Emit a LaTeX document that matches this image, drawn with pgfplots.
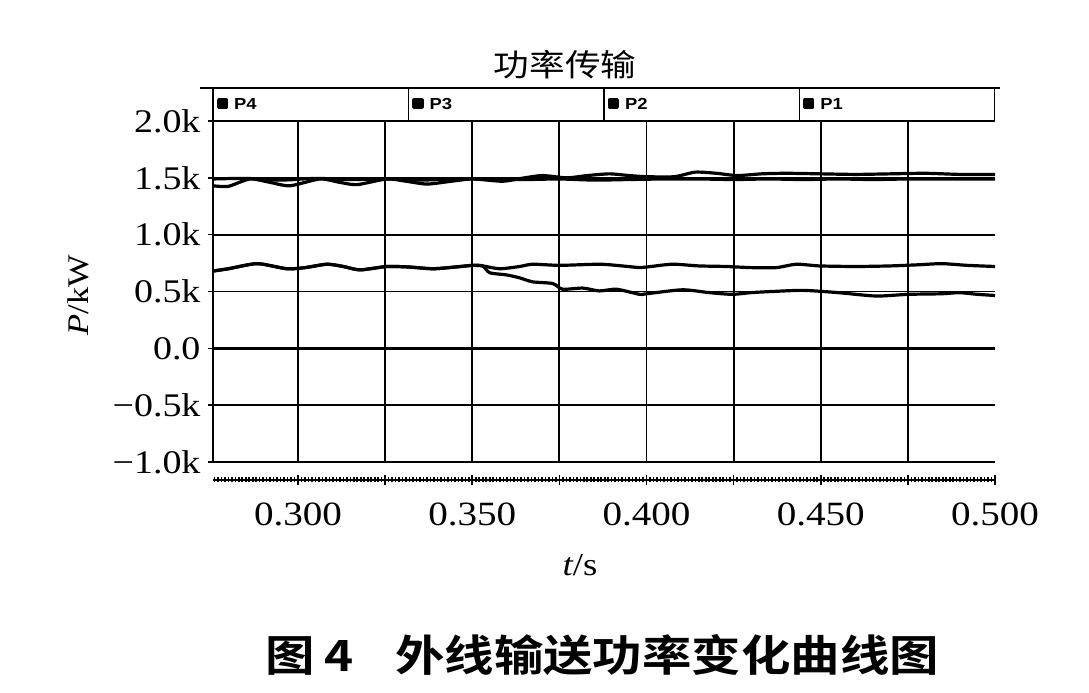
\documentclass[border=0pt]{standalone}
\usepackage{pgfplots}
\pgfplotsset{compat=1.18}
\usepackage{fontspec}
\setmainfont{Liberation Serif}[FakeStretch=1.15]
\newfontfamily\legfont{Liberation Sans Bold}[FakeStretch=1.15]
\newfontfamily\cjk{Noto Sans CJK SC}[FakeStretch=1.15]
\newfontfamily\cjkb{Noto Sans CJK SC Bold}[FakeStretch=1.15]

\pgfplotstableread{
x y
0.2756 1.43
0.2800 1.425
0.2862 1.49
0.2920 1.46
0.2977 1.43
0.3063 1.49
0.3120 1.46
0.3169 1.44
0.3255 1.49
0.3310 1.47
0.3370 1.445
0.3440 1.47
0.3501 1.49
0.3587 1.47
0.3650 1.50
0.3702 1.52
0.3771 1.50
0.3830 1.52
0.3894 1.535
0.3950 1.52
0.4000 1.51
0.4080 1.51
0.4140 1.55
0.4200 1.54
0.4260 1.52
0.4330 1.535
0.4400 1.54
0.4500 1.535
0.4600 1.53
0.4700 1.535
0.4800 1.54
0.4900 1.53
0.5000 1.53
}\curveA

\pgfplotstableread{
x y
0.2756 1.49
0.2850 1.495
0.2950 1.48
0.3050 1.495
0.3150 1.485
0.3250 1.49
0.3350 1.48
0.3450 1.49
0.3550 1.49
0.3650 1.485
0.3750 1.49
0.3850 1.48
0.3950 1.485
0.4050 1.49
0.4150 1.49
0.4250 1.485
0.4350 1.49
0.4450 1.485
0.4550 1.49
0.4650 1.485
0.4750 1.49
0.4850 1.49
0.5000 1.49
}\curveB

\pgfplotstableread{
x y
0.2756 0.68
0.2800 0.70
0.2883 0.745
0.2968 0.70
0.3020 0.71
0.3083 0.74
0.3130 0.72
0.3178 0.69
0.3255 0.72
0.3320 0.715
0.3387 0.70
0.3450 0.715
0.3501 0.73
0.3530 0.725
0.3579 0.70
0.3636 0.72
0.3673 0.74
0.3751 0.73
0.3865 0.74
0.3930 0.725
0.3980 0.71
0.4000 0.715
0.4074 0.74
0.4150 0.725
0.4229 0.72
0.4300 0.71
0.4372 0.71
0.4430 0.74
0.4496 0.725
0.4600 0.72
0.4700 0.725
0.4780 0.735
0.4848 0.745
0.4920 0.73
0.5000 0.72
}\curveC

\pgfplotstableread{
x y
0.2756 0.68
0.2800 0.70
0.2883 0.745
0.2968 0.70
0.3020 0.71
0.3083 0.74
0.3130 0.72
0.3178 0.69
0.3255 0.72
0.3320 0.715
0.3387 0.70
0.3450 0.715
0.3501 0.73
0.3530 0.725
0.3550 0.665
0.3600 0.645
0.3636 0.62
0.3673 0.585
0.3731 0.57
0.3759 0.52
0.3817 0.53
0.3865 0.505
0.3914 0.52
0.3980 0.475
0.4000 0.48
0.4103 0.515
0.4180 0.49
0.4246 0.475
0.4300 0.49
0.4361 0.50
0.4450 0.51
0.4550 0.49
0.4659 0.46
0.4750 0.475
0.4848 0.48
0.4897 0.49
0.4950 0.475
0.5000 0.465
}\curveD

\pgfplotstableread{
x y
0.2756 0
0.5000 0
}\curveZ

\pgfplotsset{dl/.style={black, solid, no markers, line width=3.2pt, line join=round, smooth, tension=0.4}}

\begin{document}
\begin{tikzpicture}
\path[use as bounding box] (0,0) rectangle (1089pt,693pt);
\begin{axis}[
  at={(213pt,231pt)}, anchor=south west,
  width=782pt, height=341pt, scale only axis,
  xmin=0.2756, xmax=0.5, ymin=-1, ymax=2,
  axis x line=bottom, axis y line=left,
  axis x line shift=18pt,
  x axis line style={-, line width=2.6pt},
  y axis line style={-, line width=2pt},
  xtick={0.300,0.325,0.350,0.375,0.400,0.425,0.450,0.475},
  xticklabels={0.300,,0.350,,0.400,,0.450,},
  extra x ticks={0.5}, extra x tick labels={0.500},
  extra x tick style={grid=none},
  minor xtick={0.276,0.277,...,0.5},
  ytick={-1,-0.5,0,0.5,1,1.5,2},
  yticklabels={−1.0k,−0.5k,0.0,0.5k,1.0k,1.5k,2.0k},
  grid=major,
  major grid style={black, line width=1.9pt},
  tick style={black, line width=1.6pt},
  major tick length=10pt, minor tick length=5pt,
  tick align=center,
  xticklabel style={font=\fontsize{34}{34}\selectfont, yshift=-14pt},
  yticklabel style={font=\fontsize{33}{33}\selectfont, xshift=-4pt},
  legend style={
    at={(rel axis cs:0,1)}, anchor=south west,
    draw=black, line width=1.4pt,
    inner sep=0pt, outer sep=0pt,
    legend columns=4,
    /tikz/every odd column/.append style={column sep=0pt},
    /tikz/every even column/.append style={column sep=0pt},
    nodes={inner sep=0pt, text width=174.2pt, minimum height=33pt, font=\legfont\fontsize{16}{16}\selectfont},
  },
  legend image code/.code={\path (-4pt,0pt) (14pt,0pt); \fill[black] (0pt,-2.5pt) rectangle (8pt,4.5pt);},
]
\addplot[dl] table[x=x,y=y] {\curveZ};
\addlegendentry{P4}
\addplot[dl] table[x=x,y=y] {\curveD};
\addlegendentry{P3}
\addplot[dl] table[x=x,y=y] {\curveC};
\addlegendentry{P2}
\addplot[dl] table[x=x,y=y] {\curveA};
\addlegendentry{P1}
\addplot[dl, forget plot] table[x=x,y=y] {\curveB};
\end{axis}
\draw[line width=1.4pt] (408.5pt,572pt) -- (408.5pt,605pt);
\draw[line width=1.4pt] (604pt,572pt) -- (604pt,605pt);
\draw[line width=1.4pt] (799.5pt,572pt) -- (799.5pt,605pt);
\draw[line width=1.4pt] (200pt,605pt) -- (1000pt,605pt);
\node[font=\cjk\fontsize{31}{31}\selectfont] at (565pt,628pt) {功率传输};
\node[font=\fontsize{32}{32}\selectfont] at (580pt,128pt) {\itshape t\upshape/s};
\node[font=\fontsize{30}{30}\selectfont, rotate=90] at (78pt,398pt) {{\itshape P}/kW};
\node[anchor=west, font=\cjkb\fontsize{43}{43}\selectfont] at (262pt,38pt) {图\hspace{10pt}4\hspace{41pt}外线输送功率变化曲线图};
\end{tikzpicture}
\end{document}
